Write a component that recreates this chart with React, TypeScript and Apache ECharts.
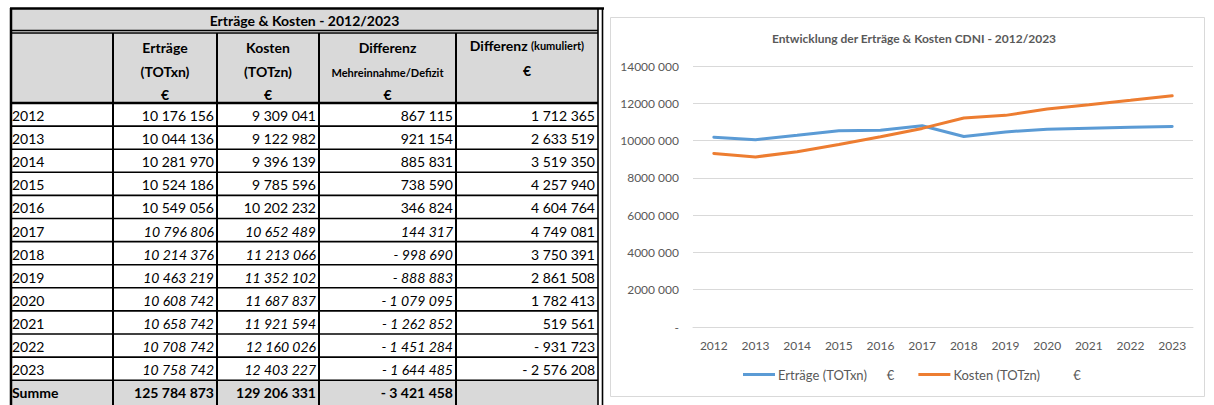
import React, { useEffect, useRef } from 'react';
import * as echarts from 'echarts';

const years = ['2012', '2013', '2014', '2015', '2016', '2017', '2018', '2019', '2020', '2021', '2022', '2023'];
const ertraege = [10176156, 10044136, 10281970, 10524186, 10549056, 10796806, 10214376, 10463219, 10608742, 10658742, 10708742, 10758742];
const kosten = [9309041, 9122982, 9396139, 9785596, 10202232, 10652489, 11213066, 11352102, 11687837, 11921594, 12160026, 12403227];
const differenz = [867115, 921154, 885831, 738590, 346824, 144317, -998690, -888883, -1079095, -1262852, -1451284, -1644485];
const kumuliert = [1712365, 2633519, 3519350, 4257940, 4604764, 4749081, 3750391, 2861508, 1782413, 519561, -931723, -2576208];
const projectedYears = ['2017', '2018', '2019', '2020', '2021', '2022', '2023'];
const summeLabel = 'Summe';
const summeValues = [125784873, 129206331, -3421458];
const yTickLabels = ['-', '2000 000', '4000 000', '6000 000', '8000 000', '10000 000', '12000 000', '14000 000'];
const tableTitle = 'Erträge & Kosten - 2012/2023';
const chartTitle = 'Entwicklung der Erträge & Kosten CDNI - 2012/2023';
const seriesNames = ['Erträge (TOTxn)      €', 'Kosten (TOTzn)          €'];

const FONT = 'Lato, "Open Sans", sans-serif';

function fmt(n: number): string {
  const s = Math.abs(n).toString().replace(/\B(?=(\d{3})+(?!\d))/g, ' ');
  return n < 0 ? '- ' + s : s;
}

function txt(x: number, y: number, text: string, opts: any = {}) {
  const align = opts.align || 'left';
  return {
    type: 'text',
    z: 10,
    silent: true,
    style: {
      x,
      y,
      text,
      fill: '#000',
      fontSize: opts.size || 14,
      fontWeight: opts.bold ? 'bold' : 'normal',
      fontStyle: opts.italic ? 'italic' : 'normal',
      fontFamily: FONT,
      align,
      textAlign: align,
      verticalAlign: 'middle',
      textVerticalAlign: 'middle',
      rich: opts.rich,
    },
  };
}

function hline(x1: number, x2: number, y: number, w: number) {
  return { type: 'line', z: 11, silent: true, shape: { x1, y1: y, x2, y2: y }, style: { stroke: '#000', lineWidth: w } };
}
function vline(x: number, y1: number, y2: number, w: number) {
  return { type: 'line', z: 11, silent: true, shape: { x1: x, y1, x2: x, y2 }, style: { stroke: '#000', lineWidth: w } };
}

function buildTable() {
  const colX = [11, 113, 217, 319, 456, 598];
  const top = 8;
  const titleBottom = 32;
  const headTop = 33;
  const headBottom = 103;
  const rowH = 23.1;
  const left = colX[0];
  const right = colX[5];
  const bottom = 405;
  const els: any[] = [];
  const gray = '#d9d9d9';
  els.push({ type: 'rect', z: 5, silent: true, shape: { x: left, y: top, width: right - left, height: titleBottom - top }, style: { fill: gray } });
  els.push({ type: 'rect', z: 5, silent: true, shape: { x: left, y: headTop, width: right - left, height: headBottom - headTop }, style: { fill: gray } });
  const sumY = headBottom + rowH * years.length;
  els.push({ type: 'rect', z: 5, silent: true, shape: { x: left, y: sumY, width: right - left, height: bottom - sumY }, style: { fill: gray } });

  els.push(txt((left + right) / 2, 20, tableTitle, { bold: true, align: 'center' }));
  const c = (i: number) => (colX[i] + colX[i + 1]) / 2;
  els.push(txt(c(1), 47, 'Erträge', { bold: true, align: 'center' }));
  els.push(txt(c(1), 71, '(TOTxn)', { bold: true, align: 'center' }));
  els.push(txt(c(1), 94, '€', { bold: true, align: 'center' }));
  els.push(txt(c(2), 47, 'Kosten', { bold: true, align: 'center' }));
  els.push(txt(c(2), 71, '(TOTzn)', { bold: true, align: 'center' }));
  els.push(txt(c(2), 94, '€', { bold: true, align: 'center' }));
  els.push(txt(c(3), 47, 'Differenz', { bold: true, align: 'center' }));
  els.push(txt(c(3), 72, 'Mehreinnahme/Defizit', { bold: true, align: 'center', size: 11 }));
  els.push(txt(c(3), 94, '€', { bold: true, align: 'center' }));
  els.push(
    txt(c(4), 45, '{a|Differenz} {b|(kumuliert)}', {
      bold: true,
      align: 'center',
      rich: {
        a: { fontSize: 14, fontWeight: 'bold', fontFamily: FONT, fill: '#000' },
        b: { fontSize: 11, fontWeight: 'bold', fontFamily: FONT, fill: '#000' },
      },
    })
  );
  els.push(txt(c(4), 70, '€', { bold: true, align: 'center' }));

  years.forEach((yr, i) => {
    const y = headBottom + rowH * (i + 0.5) + 1;
    const it = projectedYears.indexOf(yr) >= 0;
    els.push(txt(left + 1, y, yr));
    els.push(txt(colX[2] - 3, y, fmt(ertraege[i]), { align: 'right', italic: it }));
    els.push(txt(colX[3] - 3, y, fmt(kosten[i]), { align: 'right', italic: it }));
    els.push(txt(colX[4] - 3, y, fmt(differenz[i]), { align: 'right', italic: it }));
    els.push(txt(colX[5] - 3, y, fmt(kumuliert[i]), { align: 'right' }));
  });
  const sy = sumY + rowH / 2 + 1;
  els.push(txt(left + 1, sy, summeLabel, { bold: true }));
  summeValues.forEach((v, k) => {
    els.push(txt(colX[k + 2] - 3, sy, fmt(v), { align: 'right', bold: true }));
  });

  els.push(hline(left - 1, 604, top + 0.5, 2.5));
  els.push(hline(left, right, 30.5, 1.5));
  els.push(hline(left, right, 33, 1.5));
  els.push(hline(left, right, headBottom, 2.5));
  for (let k = 1; k <= years.length; k++) {
    els.push(hline(left, right, headBottom + rowH * k, 1.6));
  }
  els.push(vline(left, top, bottom, 2.5));
  for (let k = 1; k <= 4; k++) els.push(vline(colX[k], headTop, bottom, 2));
  els.push(vline(598, top, bottom, 1.6));
  els.push(vline(602.5, top, bottom, 1.6));
  return els;
}

export default function App() {
  const ref = useRef<HTMLDivElement>(null);
  useEffect(() => {
    if (!ref.current) return;
    const chart = echarts.init(ref.current, null, { renderer: 'svg' });
    const option: any = {
      animation: false,
      backgroundColor: '#fff',
      textStyle: { fontFamily: FONT },
      title: {
        text: chartTitle,
        left: 909,
        top: 27,
        textAlign: 'center',
        textStyle: { fontSize: 12, fontWeight: 'bold', color: '#595959', fontFamily: FONT },
      },
      legend: {
        left: 743,
        top: 368,
        padding: 0,
        icon: 'rect',
        itemWidth: 32,
        itemHeight: 3,
        itemGap: 24,
        textStyle: { fontSize: 13, color: '#595959', fontFamily: FONT, padding: [0, 0, 0, -2] },
        data: seriesNames,
      },
      grid: { left: 693, right: 21, top: 66, bottom: 78, containLabel: false },
      xAxis: {
        type: 'category',
        data: years,
        boundaryGap: true,
        axisLine: { show: true, lineStyle: { color: '#d9d9d9' } },
        axisTick: { show: false },
        axisLabel: { color: '#595959', fontSize: 12, margin: 12, fontFamily: FONT },
      },
      yAxis: {
        type: 'value',
        min: 0,
        max: 14000000,
        interval: 2000000,
        axisLine: { show: false },
        axisTick: { show: false },
        splitLine: { lineStyle: { color: '#d9d9d9', width: 1 } },
        axisLabel: {
          color: '#595959',
          fontSize: 12,
          margin: 14,
          fontFamily: FONT,
          formatter: (v: number) => yTickLabels[Math.round(v / 2000000)] ?? '',
        },
      },
      series: [
        {
          name: seriesNames[0],
          type: 'line',
          data: ertraege,
          symbol: 'none',
          color: '#5B9BD5',
          lineStyle: { width: 3, color: '#5B9BD5', cap: 'round' },
        },
        {
          name: seriesNames[1],
          type: 'line',
          data: kosten,
          symbol: 'none',
          color: '#ED7D31',
          lineStyle: { width: 3, color: '#ED7D31', cap: 'round' },
        },
      ],
      graphic: [
        {
          type: 'rect',
          z: 0,
          silent: true,
          shape: { x: 610.5, y: 17.5, width: 594, height: 379 },
          style: { fill: 'none', stroke: '#d9d9d9', lineWidth: 1 },
        },
        ...buildTable(),
      ],
    };
    chart.setOption(option);
    return () => chart.dispose();
  }, []);
  return (
    <div
      ref={ref}
      style={{ position: 'absolute', left: 0, top: 0, width: 1214, height: 405, background: '#fff' }}
    />
  );
}
